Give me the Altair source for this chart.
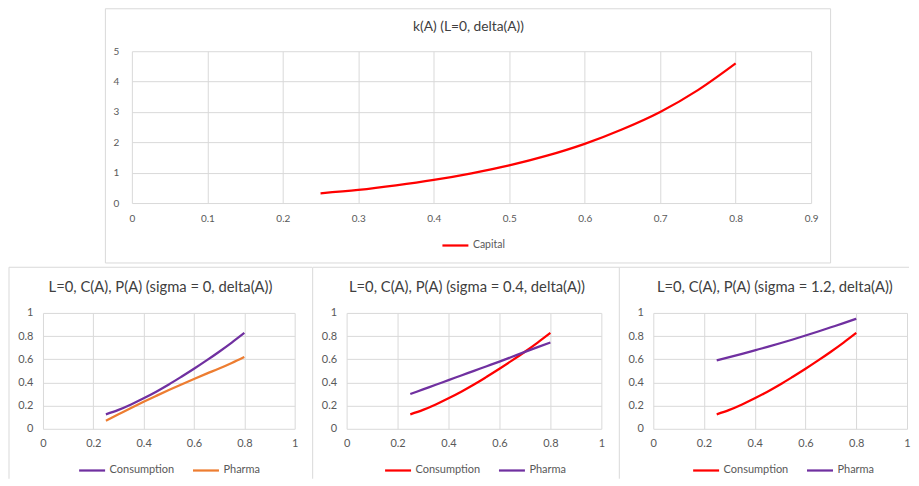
import altair as alt
import pandas as pd

# ---------------- data ----------------
A = [0.25, 0.30, 0.35, 0.40, 0.45, 0.50, 0.55, 0.60, 0.65, 0.70, 0.75, 0.80]
capital = [0.32, 0.43, 0.58, 0.76, 0.98, 1.24, 1.56, 1.95, 2.43, 3.00, 3.72, 4.60]
consumption = [0.125, 0.163, 0.21, 0.263, 0.32, 0.382, 0.449, 0.518, 0.59, 0.665, 0.744, 0.827]
pharma_s0 = [0.07, 0.125, 0.18, 0.233, 0.284, 0.334, 0.383, 0.43, 0.476, 0.52, 0.568, 0.62]
pharma_s04 = [0.30, 0.34, 0.38, 0.42, 0.46, 0.50, 0.54, 0.58, 0.622, 0.664, 0.705, 0.745]
pharma_s12 = [0.59, 0.618, 0.647, 0.677, 0.707, 0.738, 0.771, 0.805, 0.84, 0.876, 0.912, 0.95]

top_x_ticks = [0, 0.1, 0.2, 0.3, 0.4, 0.5, 0.6, 0.7, 0.8, 0.9]
top_y_ticks = [0, 1, 2, 3, 4, 5]
bottom_ticks = [0, 0.2, 0.4, 0.6, 0.8, 1]

top_title = "k(A) (L=0, delta(A))"
panel_titles = [
    "L=0, C(A), P(A) (sigma = 0, delta(A))",
    "L=0, C(A), P(A) (sigma = 0.4, delta(A))",
    "L=0, C(A), P(A) (sigma = 1.2, delta(A))",
]
series_names = ["Consumption", "Pharma"]

RED = "#ff0000"
PURPLE = "#7030a0"
ORANGE = "#ed7d31"

FONT = "Lato"
GRID = "#d9d9d9"
LABEL = "#595959"
TITLE = "#404040"
BORDER = "#d9d9d9"

one = pd.DataFrame({"d": [0]})


def axis(values, fmt, size, pad):
    return alt.Axis(values=values, format=fmt, labelFont=FONT, labelFontSize=size,
                    labelColor=LABEL, grid=True, gridColor=GRID, gridWidth=1,
                    domain=False, ticks=False, tickSize=0, labelPadding=pad,
                    labelFlush=False, labelOverlap=False)


def legend(lx, ly, size):
    return alt.Legend(orient="none", legendX=lx, legendY=ly, direction="horizontal",
                      symbolType="stroke", symbolSize=676, symbolStrokeWidth=2.25,
                      labelFont=FONT, labelFontSize=size, labelColor=LABEL,
                      labelOffset=3, columnPadding=14, padding=0)


def title_mark(text, cx, cy, size):
    return alt.Chart(one).mark_text(text=text, font=FONT, fontSize=size, color=TITLE,
                                    align="center", baseline="middle").encode(
        x=alt.value(cx), y=alt.value(cy))


# ---------------- top chart ----------------
TW, TH = 680, 152
top_df = pd.DataFrame({"A": A, "value": capital, "series": ["Capital"] * len(A)})

top_line = alt.Chart(top_df).mark_line(strokeWidth=2.25, interpolate="monotone").encode(
    x=alt.X("A:Q", title=None, scale=alt.Scale(domain=[0, 0.9], nice=False),
            axis=axis(top_x_ticks, ".1~f", 10, 10)),
    y=alt.Y("value:Q", title=None, scale=alt.Scale(domain=[0, 5], nice=False),
            axis=axis(top_y_ticks, "d", 10, 13)),
    color=alt.Color("series:N", title=None,
                    scale=alt.Scale(domain=["Capital"], range=[RED]),
                    legend=legend(398.4, 180, 10.5)),
)
top_border = alt.Chart(one).mark_rect(fill="white", fillOpacity=0, stroke=BORDER, strokeWidth=1).encode(
    x=alt.value(-26.5), x2=alt.value(699.5), y=alt.value(-42.5), y2=alt.value(212)
)
top = alt.layer(top_border, top_line, title_mark(top_title, 337, -24.5, 13.8)).properties(
    width=TW, height=TH)

spacer = alt.Chart(one).mark_point(opacity=0).properties(width=89, height=TH)
top_row = alt.hconcat(spacer, top, spacing=0, bounds="flush")


# ---------------- bottom panels ----------------
def panel(pharma, colors, title, width, lx, right_end, tx):
    df = pd.DataFrame({
        "A": A + A,
        "value": consumption + pharma,
        "series": [series_names[0]] * len(A) + [series_names[1]] * len(A),
    })
    lines = alt.Chart(df).mark_line(strokeWidth=2.25, interpolate="monotone").encode(
        x=alt.X("A:Q", title=None, scale=alt.Scale(domain=[0, 1], nice=False),
                axis=axis(bottom_ticks, ".1~f", 11, 9)),
        y=alt.Y("value:Q", title=None, scale=alt.Scale(domain=[0, 1], nice=False),
                axis=axis(bottom_ticks, ".1~f", 11, 10)),
        color=alt.Color("series:N", title=None,
                        scale=alt.Scale(domain=series_names, range=colors),
                        legend=legend(lx, 143, 11)),
    )
    left = alt.Chart(one).mark_rule(stroke=BORDER, strokeWidth=1).encode(
        x=alt.value(-34), y=alt.value(-45.7), y2=alt.value(166)
    )
    topr = alt.Chart(one).mark_rule(stroke=BORDER, strokeWidth=1).encode(
        x=alt.value(-34), x2=alt.value(right_end), y=alt.value(-45.7)
    )
    return alt.layer(left, topr, lines, title_mark(title, tx, -25, 14.8)).properties(
        width=width, height=116)


p1 = panel(pharma_s0, [PURPLE, ORANGE], panel_titles[0], 252, 34.7, 269.4, 117.7)
p2 = panel(pharma_s04, [RED, PURPLE], panel_titles[1], 255, 37, 273, 120.4)
p3 = panel(pharma_s12, [RED, PURPLE], panel_titles[2], 254, 38.4, 256, 121.7)

row = alt.hconcat(p1, p2, p3, spacing=52, bounds="flush").resolve_scale(
    color="independent").resolve_legend(color="independent")

chart = alt.vconcat(top_row, row, spacing=2).resolve_scale(
    color="independent").resolve_legend(color="independent").properties(
    padding=0, background="white").configure_view(strokeWidth=0)

chart.save("out.html", embed_options={"renderer": "svg", "actions": False})
